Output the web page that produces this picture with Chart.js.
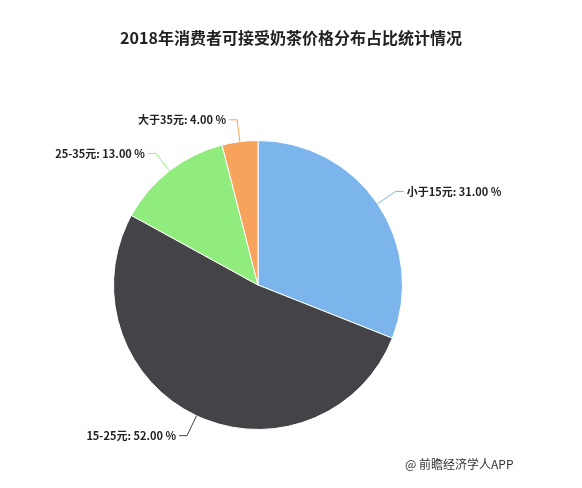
<!DOCTYPE html>
<html>
<head>
<meta charset="utf-8">
<script src="https://cdn.jsdelivr.net/npm/chart.js@4"></script>
<style>
  html, body { margin: 0; padding: 0; background: #fff; }
  #wrap { width: 582px; height: 488px; position: relative; }
</style>
</head>
<body>
<div id="wrap"><canvas id="pieChart" width="582" height="488"></canvas></div>
<script>
const categories = ['小于15元', '15-25元', '25-35元', '大于35元'];
const shares = [31.00, 52.00, 13.00, 4.00];
const sliceColors = ['#7cb5ec', '#434348', '#90ed7d', '#f7a35c'];
const chartTitle = '2018年消费者可接受奶茶价格分布占比统计情况';
const sourceText = '@ 前瞻经济学人APP';

const labelPlugin = {
    id: 'pieLabels',
    afterDraw(chart) {
        const ctx = chart.ctx;
        ctx.save();
        // title
        ctx.fillStyle = '#222';
        ctx.font = 'bold 16px "Noto Sans CJK SC", sans-serif';
        ctx.textAlign = 'center';
        ctx.textBaseline = 'middle';
        ctx.fillText(chartTitle, 291, 38);
        // source
        ctx.font = '12px "Noto Sans CJK SC", sans-serif';
        ctx.textAlign = 'left';
        ctx.fillStyle = '#333';
        ctx.fillText(sourceText, 405, 464);

        const meta = chart.getDatasetMeta(0);
        ctx.font = 'bold 11px "Noto Sans CJK SC", sans-serif';
        meta.data.forEach((arc, i) => {
            const mid = (arc.startAngle + arc.endAngle) / 2;
            const r = arc.outerRadius;
            const x1 = arc.x + Math.cos(mid) * r;
            const y1 = arc.y + Math.sin(mid) * r;
            const x2 = arc.x + Math.cos(mid) * (r + 22);
            const y2 = arc.y + Math.sin(mid) * (r + 22);
            const right = Math.cos(mid) >= 0;
            const x3 = x2 + (right ? 8 : -8);
            ctx.strokeStyle = sliceColors[i];
            ctx.lineWidth = 1;
            ctx.beginPath();
            ctx.moveTo(x1, y1);
            ctx.lineTo(x2, y2);
            ctx.lineTo(x3, y2);
            ctx.stroke();
            ctx.fillStyle = '#222';
            ctx.textAlign = right ? 'left' : 'right';
            ctx.fillText(categories[i] + ': ' + shares[i].toFixed(2) + ' %', x3 + (right ? 3 : -3), y2);
        });
        ctx.restore();
    }
};

new Chart(document.getElementById('pieChart').getContext('2d'), {
    type: 'pie',
    data: {
        labels: categories,
        datasets: [{
            data: shares,
            backgroundColor: sliceColors,
            borderColor: '#fff',
            borderWidth: 1
        }]
    },
    options: {
        responsive: false,
        animation: false,
        layout: { padding: { top: 140, bottom: 58, left: 113, right: 179 } },
        plugins: {
            legend: { display: false },
            tooltip: { enabled: false }
        }
    },
    plugins: [labelPlugin]
});
</script>
</body>
</html>
